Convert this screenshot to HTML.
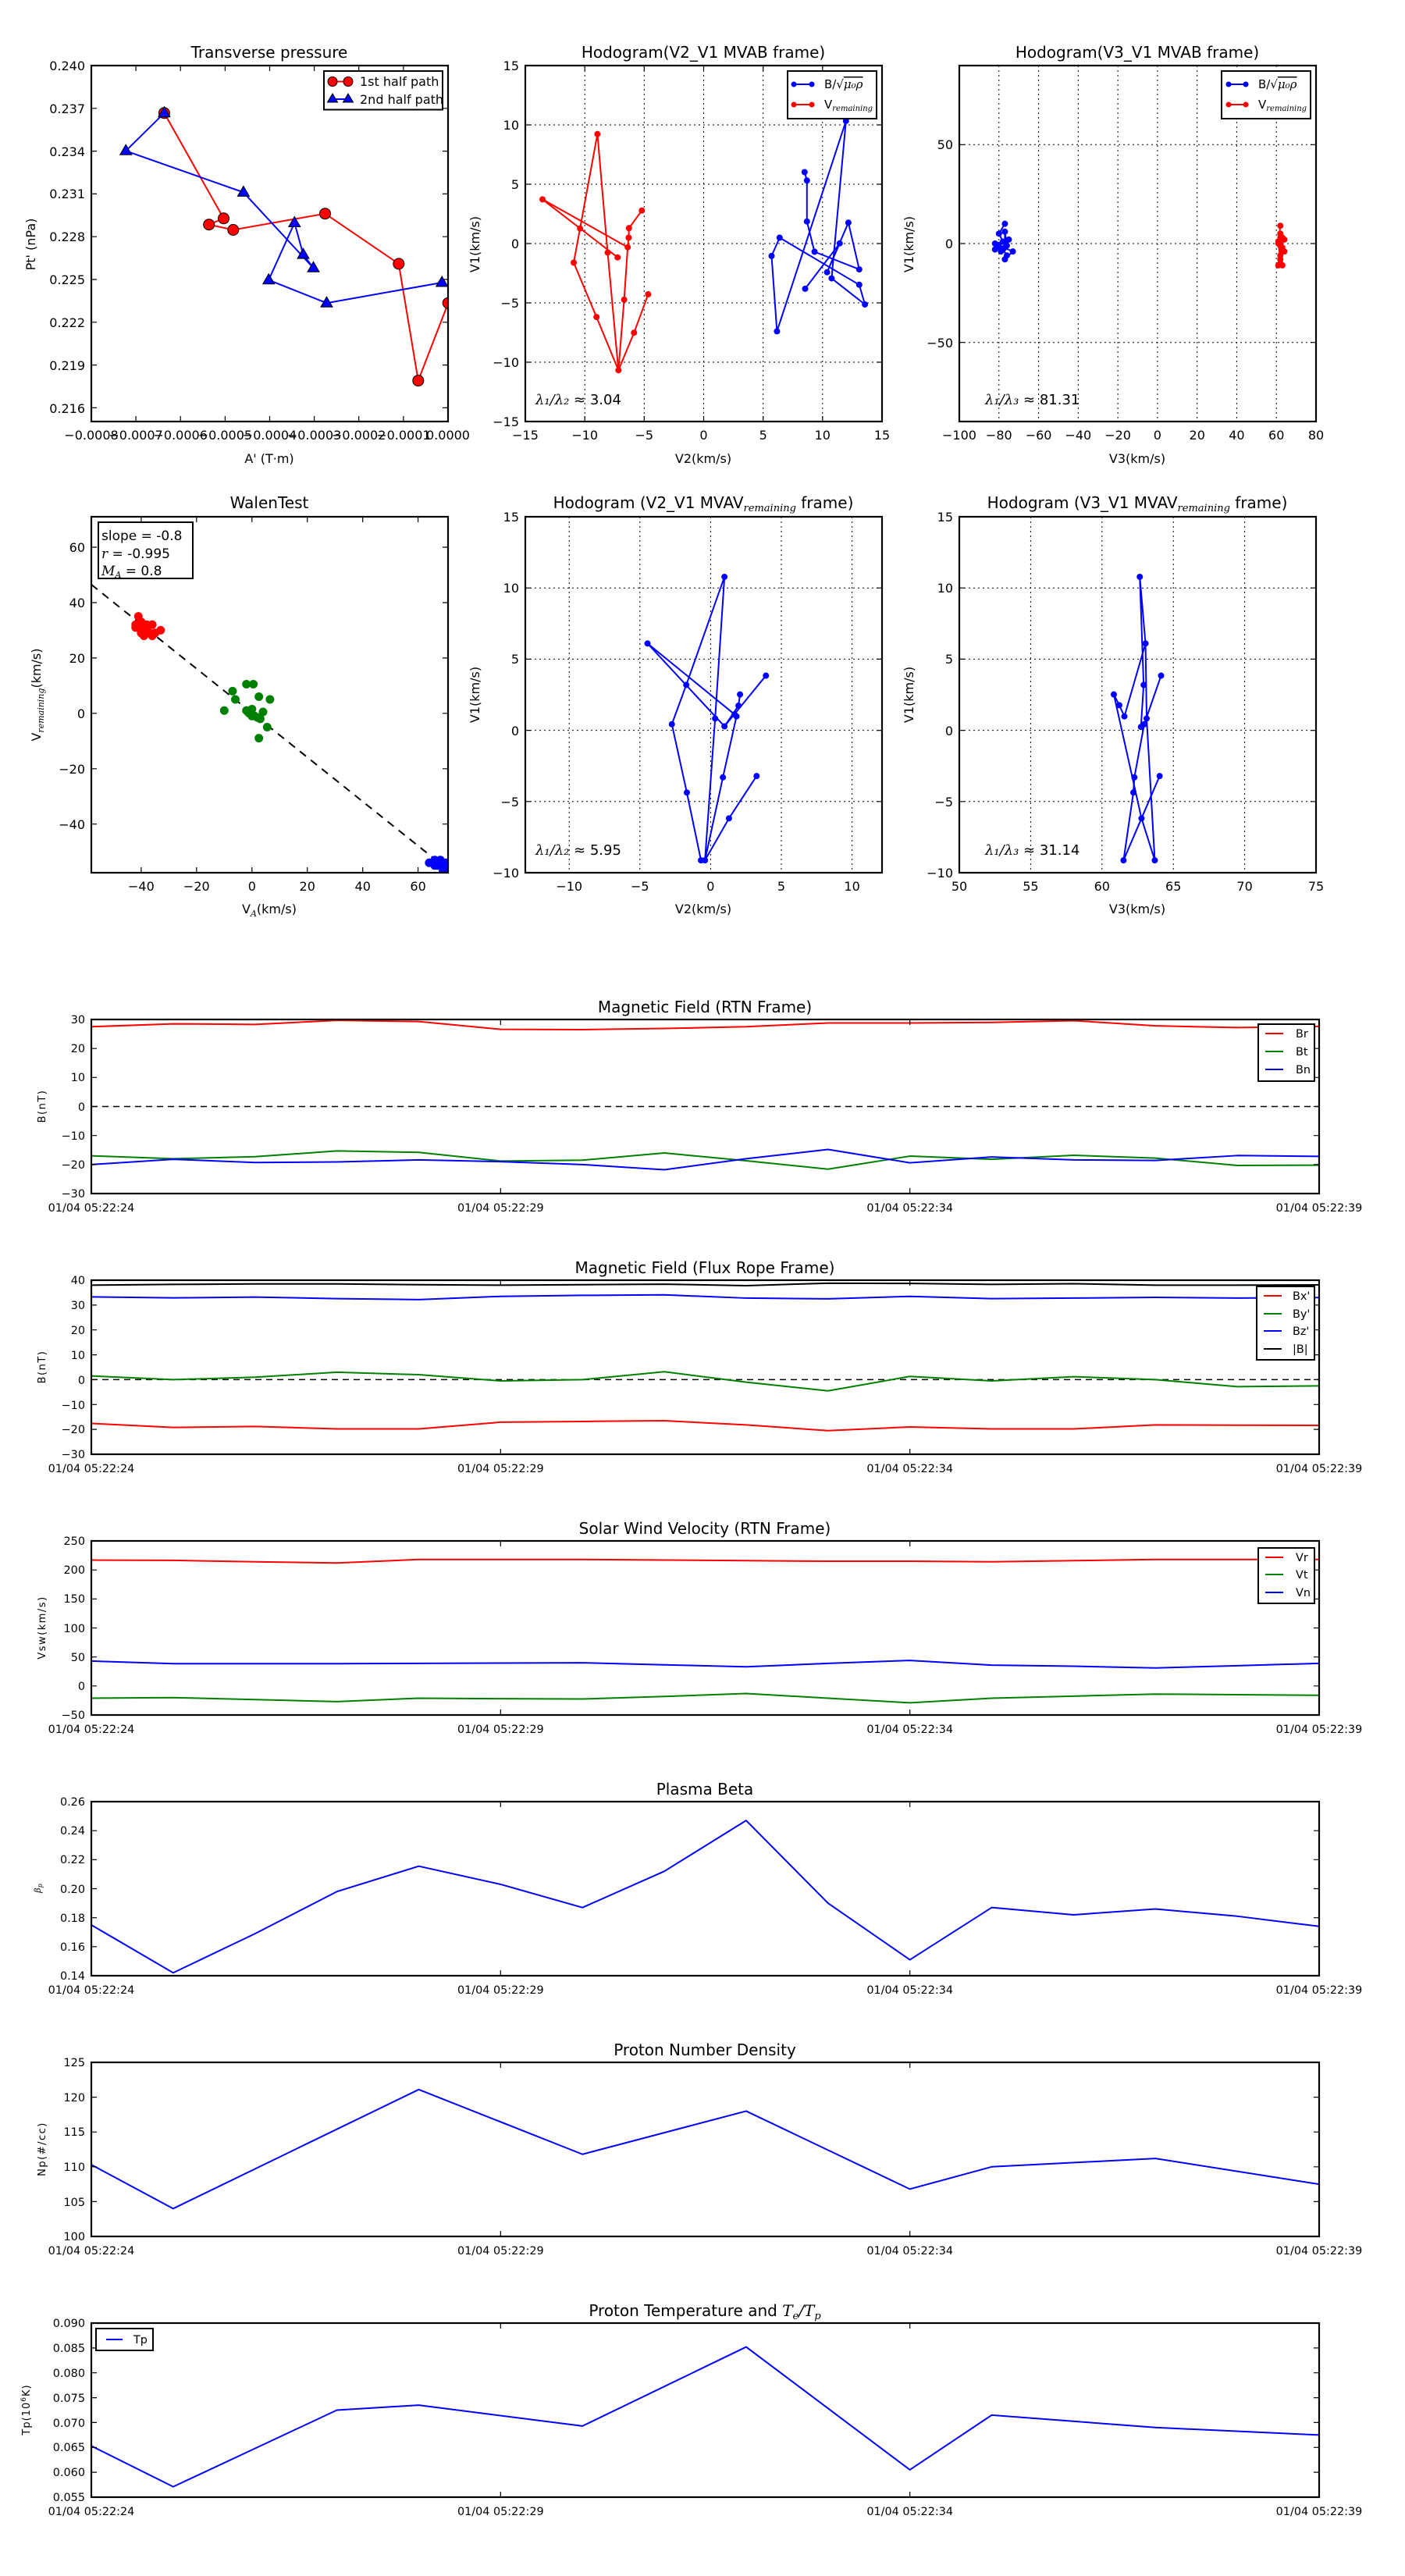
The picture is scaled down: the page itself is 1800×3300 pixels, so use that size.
<!DOCTYPE html>
<html><head><meta charset="utf-8"><style>
html,body{margin:0;padding:0;background:#fff;}
svg{display:block;font-family:"DejaVu Sans","Liberation Sans",sans-serif;}
.t{font-size:16px;fill:#000;}
.ts{font-size:14.4px;fill:#000;}
.ti{font-size:20px;fill:#000;text-anchor:middle;}
.ax{fill:none;stroke:#000;stroke-width:2.2;}
.tk{stroke:#000;stroke-width:1.2;}
.gr{stroke:#000;stroke-width:1;stroke-dasharray:2,4;}
.ln{fill:none;stroke-width:2;vector-effect:non-scaling-stroke;stroke-linejoin:round;}
.dt{fill:none;stroke-linecap:round;vector-effect:non-scaling-stroke;}
.m{font-family:"DejaVu Serif","Liberation Serif",serif;font-style:italic;}
</style></head><body>
<svg width="1800" height="3300" viewBox="0 0 1800 3300" xmlns="http://www.w3.org/2000/svg">
<defs>
<clipPath id="c1"><rect x="117" y="84" width="457" height="456"/></clipPath>
<clipPath id="c2"><rect x="673" y="84" width="457" height="456"/></clipPath>
</defs>

<!-- ============ Panel 1: Transverse pressure ============ -->
<text class="ti" x="345" y="74">Transverse pressure</text>
<g class="tk">
<path d="M174.1,84v7M231.2,84v7M288.4,84v7M345.5,84v7M402.6,84v7M459.7,84v7M516.9,84v7M174.1,540v-7M231.2,540v-7M288.4,540v-7M345.5,540v-7M402.6,540v-7M459.7,540v-7M516.9,540v-7"/>
<path d="M117,138.8h7M117,193.6h7M117,248.4h7M117,303.2h7M117,358h7M117,412.8h7M117,467.6h7M117,522.4h7M574,138.8h-7M574,193.6h-7M574,248.4h-7M574,303.2h-7M574,358h-7M574,412.8h-7M574,467.6h-7M574,522.4h-7"/>
</g>
<g class="t" text-anchor="end">
<text x="109" y="90">0.240</text><text x="109" y="145">0.237</text><text x="109" y="200">0.234</text><text x="109" y="254">0.231</text><text x="109" y="309">0.228</text><text x="109" y="364">0.225</text><text x="109" y="419">0.222</text><text x="109" y="474">0.219</text><text x="109" y="529">0.216</text>
</g>
<g class="t" text-anchor="middle">
<text x="117" y="563">−0.0008</text><text x="174.1" y="563">−0.0007</text><text x="231.2" y="563">−0.0006</text><text x="288.4" y="563">−0.0005</text><text x="345.5" y="563">−0.0004</text><text x="402.6" y="563">−0.0003</text><text x="459.7" y="563">−0.0002</text><text x="516.9" y="563">−0.0001</text><text x="574" y="563">0.0000</text>
</g>
<text class="t" x="345" y="593" text-anchor="middle">A' (T·m)</text>
<text class="t" transform="translate(45,313) rotate(-90)" text-anchor="middle">Pt' (nPa)</text>
<g clip-path="url(#c1)">
<polyline fill="none" stroke="#f00" stroke-width="2" points="210.4,144.8 286.5,279.8 267.7,287.7 298.8,294.5 416.5,273.7 510.8,337.9 535.8,487.6 574.2,388.2"/>
<g fill="#f00" stroke="#000" stroke-width="1">
<circle cx="210.4" cy="144.8" r="7"/><circle cx="286.5" cy="279.8" r="7"/><circle cx="267.7" cy="287.7" r="7"/><circle cx="298.8" cy="294.5" r="7"/><circle cx="416.5" cy="273.7" r="7"/><circle cx="510.8" cy="337.9" r="7"/><circle cx="535.8" cy="487.6" r="7"/><circle cx="574.2" cy="388.2" r="7"/>
</g>
<polyline fill="none" stroke="#00f" stroke-width="2" points="210.4,144.8 161.2,193.3 311.9,246.4 401.5,343.3 388.5,326.1 377.3,285.5 344.2,358.7 418.5,388.2 566.2,362"/>
<g fill="#00f" stroke="#000" stroke-width="1">
<polygon points="210.4,136.8 202.9,149.8 217.9,149.8"/><polygon points="161.2,185.3 153.7,198.3 168.7,198.3"/><polygon points="311.9,238.4 304.4,251.4 319.4,251.4"/><polygon points="401.5,335.3 394,348.3 409,348.3"/><polygon points="388.5,318.1 381,331.1 396,331.1"/><polygon points="377.3,277.5 369.8,290.5 384.8,290.5"/><polygon points="344.2,350.7 336.7,363.7 351.7,363.7"/><polygon points="418.5,380.2 411,393.2 426,393.2"/><polygon points="566.2,354 558.7,367 573.7,367"/>
</g>
</g>
<rect class="ax" x="117" y="84" width="457" height="456"/>
<rect x="415" y="91" width="152" height="49.5" fill="#fff" stroke="#000" stroke-width="2"/>
<line x1="426" y1="104.5" x2="446" y2="104.5" stroke="#f00" stroke-width="2"/>
<circle cx="426" cy="104.5" r="6" fill="#f00" stroke="#000"/><circle cx="446" cy="104.5" r="6" fill="#f00" stroke="#000"/>
<line x1="426" y1="127" x2="446" y2="127" stroke="#00f" stroke-width="2"/>
<polygon points="426,120 419.5,131 432.5,131" fill="#00f" stroke="#000"/><polygon points="446,120 439.5,131 452.5,131" fill="#00f" stroke="#000"/>
<text class="t" x="461" y="110">1st half path</text>
<text class="t" x="461" y="133">2nd half path</text>

<!-- ============ Panel 2: Hodogram V2_V1 MVAB ============ -->
<text class="ti" x="901" y="74">Hodogram(V2_V1 MVAB frame)</text>
<g class="gr">
<path d="M749.2,84V540M825.3,84V540M901.5,84V540M977.7,84V540M1053.8,84V540M673,160H1130M673,236H1130M673,312H1130M673,388H1130M673,464H1130"/>
</g>
<g class="tk"><path d="M749.2,84v7M825.3,84v7M901.5,84v7M977.7,84v7M1053.8,84v7M749.2,540v-7M825.3,540v-7M901.5,540v-7M977.7,540v-7M1053.8,540v-7M673,160h7M673,236h7M673,312h7M673,388h7M673,464h7M1130,160h-7M1130,236h-7M1130,312h-7M1130,388h-7M1130,464h-7"/></g>
<g class="t" text-anchor="end">
<text x="665" y="90">15</text><text x="665" y="166">10</text><text x="665" y="242">5</text><text x="665" y="318">0</text><text x="665" y="394">−5</text><text x="665" y="470">−10</text><text x="665" y="546">−15</text>
</g>
<g class="t" text-anchor="middle">
<text x="673" y="563">−15</text><text x="749.2" y="563">−10</text><text x="825.3" y="563">−5</text><text x="901.5" y="563">0</text><text x="977.7" y="563">5</text><text x="1053.8" y="563">10</text><text x="1130" y="563">15</text>
</g>
<text class="t" x="901" y="593" text-anchor="middle">V2(km/s)</text>
<text class="t" transform="translate(614,313) rotate(-90)" text-anchor="middle">V1(km/s)</text>
<g clip-path="url(#c2)" fill="none" stroke-width="2" stroke-linejoin="round">
<g stroke="#f00">
<polyline points="830.4,377 812.3,426.2 792.3,474.3 764.2,406.1 735,336.5"/>
<polyline points="735,336.5 743.1,292.7 765.4,171.7 778.5,323.6 792.3,474.3"/>
<polyline points="792.3,474.3 799.6,383.9 804.2,316.7 805.4,304.5 805.8,292.3 822.3,269.7"/>
<polyline points="791.2,329.7 695,255.4 804.2,316.7"/>
</g>
<g fill="#f00" stroke="none">
<circle cx="695" cy="255.4" r="4"/><circle cx="743.1" cy="292.7" r="4"/><circle cx="735" cy="336.5" r="4"/><circle cx="764.2" cy="406.1" r="4"/><circle cx="792.3" cy="474.3" r="4"/><circle cx="799.6" cy="383.9" r="4"/><circle cx="804.2" cy="316.7" r="4"/><circle cx="805.4" cy="304.5" r="4"/><circle cx="805.8" cy="292.3" r="4"/><circle cx="822.3" cy="269.7" r="4"/><circle cx="765.4" cy="171.7" r="4"/><circle cx="778.5" cy="323.6" r="4"/><circle cx="791.2" cy="329.7" r="4"/><circle cx="812.3" cy="426.2" r="4"/><circle cx="830.4" cy="377" r="4"/>
</g>
<g stroke="#00f">
<polyline points="1030.8,220.5 1033.8,231.3 1033.8,283.7 1043.5,322.5 1100.8,345.1 1086.9,285.2 1059.6,348.7 1075.8,311.7 1031.5,369.9"/>
<polyline points="998.8,304.5 988.5,327.9 995.4,424.4 1083.8,154.9 1065.4,356.6 1108.1,390 1100.8,364.8 998.8,304.5"/>
</g>
<g fill="#00f" stroke="none">
<circle cx="1083.8" cy="154.9" r="4"/><circle cx="1030.8" cy="220.5" r="4"/><circle cx="1033.8" cy="231.3" r="4"/><circle cx="1033.8" cy="283.7" r="4"/><circle cx="1043.5" cy="322.5" r="4"/><circle cx="1100.8" cy="345.1" r="4"/><circle cx="998.8" cy="304.5" r="4"/><circle cx="988.5" cy="327.9" r="4"/><circle cx="995.4" cy="424.4" r="4"/><circle cx="1086.9" cy="285.2" r="4"/><circle cx="1075.8" cy="311.7" r="4"/><circle cx="1059.6" cy="348.7" r="4"/><circle cx="1065.4" cy="356.6" r="4"/><circle cx="1100.8" cy="364.8" r="4"/><circle cx="1108.1" cy="390" r="4"/><circle cx="1031.5" cy="369.9" r="4"/>
</g>
</g>
<rect class="ax" x="673" y="84" width="457" height="456"/>
<rect x="1009" y="91" width="114" height="61" fill="#fff" stroke="#000" stroke-width="2"/>
<line x1="1017" y1="108" x2="1040" y2="108" stroke="#00f" stroke-width="2"/><circle cx="1017" cy="108" r="3.5" fill="#00f"/><circle cx="1040" cy="108" r="3.5" fill="#00f"/>
<line x1="1017" y1="134" x2="1040" y2="134" stroke="#f00" stroke-width="2"/><circle cx="1017" cy="134" r="3.5" fill="#f00"/><circle cx="1040" cy="134" r="3.5" fill="#f00"/>
<text x="1056" y="113" style="font-size:15px">B/√<tspan class="m" style="text-decoration:overline">μ₀ρ</tspan></text>
<text x="1056" y="139" style="font-size:15px">V<tspan class="m" style="font-size:10px" dy="3">remaining</tspan></text>
<text x="686" y="518" style="font-size:18px"><tspan class="m">λ₁/λ₂</tspan> ≈ 3.04</text>

<!-- ============ Panel 3: Hodogram V3_V1 MVAB ============ -->
<text class="ti" x="1457" y="74">Hodogram(V3_V1 MVAB frame)</text>
<g class="gr"><path d="M1279.8,84V540M1330.6,84V540M1381.3,84V540M1432.1,84V540M1482.9,84V540M1533.7,84V540M1584.4,84V540M1635.2,84V540M1229,185.3H1686M1229,312H1686M1229,438.7H1686"/></g>
<g class="tk"><path d="M1229,185.3h7M1229,312h7M1229,438.7h7M1686,185.3h-7M1686,312h-7M1686,438.7h-7"/></g>
<g class="t" text-anchor="end"><text x="1221" y="191">50</text><text x="1221" y="318">0</text><text x="1221" y="445">−50</text></g>
<g class="t" text-anchor="middle">
<text x="1229" y="563">−100</text><text x="1279.8" y="563">−80</text><text x="1330.6" y="563">−60</text><text x="1381.3" y="563">−40</text><text x="1432.1" y="563">−20</text><text x="1482.9" y="563">0</text><text x="1533.7" y="563">20</text><text x="1584.4" y="563">40</text><text x="1635.2" y="563">60</text><text x="1686" y="563">80</text>
</g>
<text class="t" x="1457" y="593" text-anchor="middle">V3(km/s)</text>
<text class="t" transform="translate(1170,313) rotate(-90)" text-anchor="middle">V1(km/s)</text>
<svg x="1229" y="84" width="457" height="456" viewBox="-100 -90 180 180" preserveAspectRatio="none">
<polyline class="ln" stroke="#00f" points="-77,-10 -80,-5 -78,-1 -82,0 -82,3 -77,2 -75,-2 -78,3 -76,6 -77,8 -73,4 -80,1 -79,4 -76,1 -77,-6 -77,2"/>
<path class="dt" stroke="#00f" stroke-width="8" d="M-77,-10h0M-80,-5h0M-78,-1h0M-82,0h0M-82,3h0M-77,2h0M-75,-2h0M-78,3h0M-76,6h0M-77,8h0M-73,4h0M-80,1h0M-79,4h0M-76,1h0M-77,-6h0"/>
<polyline class="ln" stroke="#f00" points="62,-9 61,-1 63,-3 64,-2 62,1 63,2 64,4 62,6 61,11 63,11 62,8 61,0 62,-3 63,3 62,10 62,-5"/>
<path class="dt" stroke="#f00" stroke-width="8" d="M62,-9h0M61,-1h0M63,-3h0M64,-2h0M62,1h0M63,2h0M64,4h0M62,6h0M61,11h0M63,11h0M62,8h0M61,0h0M62,-3h0M63,3h0M62,10h0M62,-5h0"/>
</svg>
<rect class="ax" x="1229" y="84" width="457" height="456"/>
<rect x="1565" y="91" width="114" height="61" fill="#fff" stroke="#000" stroke-width="2"/>
<line x1="1574" y1="108" x2="1596" y2="108" stroke="#00f" stroke-width="2"/><circle cx="1574" cy="108" r="3.5" fill="#00f"/><circle cx="1596" cy="108" r="3.5" fill="#00f"/>
<line x1="1574" y1="134" x2="1596" y2="134" stroke="#f00" stroke-width="2"/><circle cx="1574" cy="134" r="3.5" fill="#f00"/><circle cx="1596" cy="134" r="3.5" fill="#f00"/>
<text x="1612" y="113" style="font-size:15px">B/√<tspan class="m" style="text-decoration:overline">μ₀ρ</tspan></text>
<text x="1612" y="139" style="font-size:15px">V<tspan class="m" style="font-size:10px" dy="3">remaining</tspan></text>
<text x="1262" y="518" style="font-size:18px"><tspan class="m">λ₁/λ₃</tspan> ≈ 81.31</text>

<!-- ============ Panel 4: WalenTest ============ -->
<text class="ti" x="345" y="651">WalenTest</text>
<g class="tk"><path d="M180.9,662v7M251.8,662v7M322.8,662v7M393.7,662v7M464.7,662v7M535.6,662v7M180.9,1118v-7M251.8,1118v-7M322.8,1118v-7M393.7,1118v-7M464.7,1118v-7M535.6,1118v-7M117,701h7M117,772h7M117,842.9h7M117,913.8h7M117,984.8h7M117,1055.7h7M574,701h-7M574,772h-7M574,842.9h-7M574,913.8h-7M574,984.8h-7M574,1055.7h-7"/></g>
<g class="t" text-anchor="end"><text x="109" y="707">60</text><text x="109" y="778">40</text><text x="109" y="849">20</text><text x="109" y="920">0</text><text x="109" y="991">−20</text><text x="109" y="1062">−40</text></g>
<g class="t" text-anchor="middle"><text x="180.9" y="1141">−40</text><text x="251.8" y="1141">−20</text><text x="322.8" y="1141">0</text><text x="393.7" y="1141">20</text><text x="464.7" y="1141">40</text><text x="535.6" y="1141">60</text></g>
<text class="t" x="345" y="1170" text-anchor="middle">V<tspan class="m" style="font-size:11px" dy="4">A</tspan><tspan dy="-4">(km/s)</tspan></text>
<text class="t" transform="translate(52,890) rotate(-90)" text-anchor="middle">V<tspan class="m" style="font-size:11px" dy="4">remaining</tspan><tspan dy="-4">(km/s)</tspan></text>
<svg x="117" y="662" width="457" height="456" viewBox="-58 -71 128.8 128.6" preserveAspectRatio="none">
<line x1="-58" y1="-46.5" x2="71" y2="56.7" stroke="#000" stroke-width="2" stroke-dasharray="10,8" vector-effect="non-scaling-stroke"/>
<path class="dt" stroke="#f00" stroke-width="11" d="M-41,-35h0M-42,-31h0M-40,-33h0M-39,-30h0M-38,-32h0M-37,-29h0M-36,-32h0M-35,-29h0M-33,-30h0M-40,-29h0M-41,-32h0M-38,-31h0M-39,-28h0M-36,-28h0M-42,-32h0"/>
<path class="dt" stroke="#008000" stroke-width="11" d="M-10,-1h0M-7,-8h0M-6,-5h0M-2,-10.5h0M0.5,-10.5h0M2.5,-6h0M6.5,-5h0M-2,-1h0M0,-1.5h0M-1,0h0M0,1h0M2,1.5h0M4,-0.5h0M3,2h0M5.5,5h0M2.5,9h0M-1.5,-0.5h0M1,1h0"/>
<path class="dt" stroke="#00f" stroke-width="11" d="M64,54h0M66,53h0M67,55h0M68,53h0M69,55h0M70,56h0M66,55h0M69,57h0M70,54h0"/>
</svg>
<rect class="ax" x="117" y="662" width="457" height="456"/>
<rect x="126" y="669" width="121" height="72" fill="#fff" stroke="#000" stroke-width="2"/>
<text class="t" x="130" y="692" style="font-size:17px">slope = -0.8</text>
<text class="t" x="130" y="715" style="font-size:17px"><tspan class="m">r</tspan> = -0.995</text>
<text class="t" x="130" y="737" style="font-size:17px"><tspan class="m">M<tspan style="font-size:11px" dy="3">A</tspan></tspan><tspan dy="-3"> = 0.8</tspan></text>

<!-- ============ Panel 5: V2_V1 MVAV ============ -->
<text class="ti" x="901" y="651">Hodogram (V2_V1 MVAV<tspan class="m" style="font-size:13px" dy="4">remaining</tspan><tspan dy="-4"> frame)</tspan></text>
<g class="gr"><path d="M729.2,662V1118M819.8,662V1118M910.4,662V1118M1001,662V1118M1091.6,662V1118M673,753.2H1130M673,844.4H1130M673,935.6H1130M673,1026.8H1130"/></g>
<g class="tk"><path d="M673,753.2h7M673,844.4h7M673,935.6h7M673,1026.8h7M1130,753.2h-7M1130,844.4h-7M1130,935.6h-7M1130,1026.8h-7"/></g>
<g class="t" text-anchor="end"><text x="665" y="668">15</text><text x="665" y="759">10</text><text x="665" y="850">5</text><text x="665" y="942">0</text><text x="665" y="1033">−5</text><text x="665" y="1124">−10</text></g>
<g class="t" text-anchor="middle"><text x="729.2" y="1141">−10</text><text x="819.8" y="1141">−5</text><text x="910.4" y="1141">0</text><text x="1001" y="1141">5</text><text x="1091.6" y="1141">10</text></g>
<text class="t" x="901" y="1170" text-anchor="middle">V2(km/s)</text>
<text class="t" transform="translate(614,890) rotate(-90)" text-anchor="middle">V1(km/s)</text>
<svg x="673" y="662" width="457" height="456" viewBox="-13.1 -15 25.22 25" preserveAspectRatio="none">
<g stroke="#00f">
<polyline class="ln" points="3.25,3.21 1.30,6.18 -0.40,9.13 -0.68,9.13 -1.68,4.37 -2.74,-0.43 -1.72,-3.19 0.98,-10.78 0.32,-0.83 -0.40,9.13 0.87,3.30 1.83,-0.98 1.70,-1.12 -4.46,-6.10 0.98,-0.28 1.97,-1.73 2.08,-2.52"/>
<polyline class="ln" points="0.98,-0.28 3.91,-3.84"/>
<path class="dt" stroke-width="8" d="M3.25,3.21h0M1.30,6.18h0M-0.40,9.13h0M-0.68,9.13h0M-1.68,4.37h0M-2.74,-0.43h0M-1.72,-3.19h0M0.98,-10.78h0M0.32,-0.83h0M0.87,3.30h0M1.83,-0.98h0M1.70,-1.12h0M-4.46,-6.10h0M0.98,-0.28h0M1.97,-1.73h0M2.08,-2.52h0M3.91,-3.84h0"/>
</g>
</svg>
<rect class="ax" x="673" y="662" width="457" height="456"/>
<text x="686" y="1095" style="font-size:18px"><tspan class="m">λ₁/λ₂</tspan> ≈ 5.95</text>

<!-- ============ Panel 6: V3_V1 MVAV ============ -->
<text class="ti" x="1457" y="651">Hodogram (V3_V1 MVAV<tspan class="m" style="font-size:13px" dy="4">remaining</tspan><tspan dy="-4"> frame)</tspan></text>
<g class="gr"><path d="M1320.4,662V1118M1411.8,662V1118M1503.2,662V1118M1594.6,662V1118M1229,753.2H1686M1229,844.4H1686M1229,935.6H1686M1229,1026.8H1686"/></g>
<g class="tk"><path d="M1229,753.2h7M1229,844.4h7M1229,935.6h7M1229,1026.8h7M1686,753.2h-7M1686,844.4h-7M1686,935.6h-7M1686,1026.8h-7"/></g>
<g class="t" text-anchor="end"><text x="1221" y="668">15</text><text x="1221" y="759">10</text><text x="1221" y="850">5</text><text x="1221" y="942">0</text><text x="1221" y="1033">−5</text><text x="1221" y="1124">−10</text></g>
<g class="t" text-anchor="middle"><text x="1229" y="1141">50</text><text x="1320.4" y="1141">55</text><text x="1411.8" y="1141">60</text><text x="1503.2" y="1141">65</text><text x="1594.6" y="1141">70</text><text x="1686" y="1141">75</text></g>
<text class="t" x="1457" y="1170" text-anchor="middle">V3(km/s)</text>
<text class="t" transform="translate(1170,890) rotate(-90)" text-anchor="middle">V1(km/s)</text>
<svg x="1229" y="662" width="457" height="456" viewBox="50 -15 25 25" preserveAspectRatio="none">
<g stroke="#00f">
<polyline class="ln" points="63.05,-6.1 61.57,-0.98 61.21,-1.77 60.83,-2.52 62.77,6.18 63.7,9.13 63.13,-0.83 63.05,-6.1 62.65,-10.78 62.92,-3.19 62.73,-0.24"/>
<polyline class="ln" points="64.04,3.21 62.77,6.18 61.51,9.13 62.2,4.37 62.27,3.3 62.96,-0.43 64.14,-3.84"/>
<path class="dt" stroke-width="8" d="M62.65,-10.78h0M63.05,-6.1h0M62.92,-3.19h0M60.83,-2.52h0M61.21,-1.77h0M61.57,-0.98h0M62.73,-0.24h0M62.96,-0.43h0M63.13,-0.83h0M64.14,-3.84h0M62.27,3.3h0M62.2,4.37h0M62.77,6.18h0M61.51,9.13h0M63.7,9.13h0M64.04,3.21h0"/>
</g>
</svg>
<rect class="ax" x="1229" y="662" width="457" height="456"/>
<text x="1262" y="1095" style="font-size:18px"><tspan class="m">λ₁/λ₃</tspan> ≈ 31.14</text>

<!-- ============ Time series ============ -->
<!-- Plot 1 -->
<text class="ti" x="903" y="1297">Magnetic Field (RTN Frame)</text>
<svg x="117" y="1306" width="1573" height="223" viewBox="0 -30 15 60" preserveAspectRatio="none">
<line x1="0" y1="0" x2="15" y2="0" stroke="#000" stroke-width="1.5" stroke-dasharray="8,6" vector-effect="non-scaling-stroke"/>
<polyline class="ln" stroke="#f00" points="0,-27.5 1,-28.5 2,-28.3 3,-29.7 4,-29.3 5,-26.6 6,-26.5 7,-26.9 8,-27.5 9,-28.8 10,-28.8 11,-29 12,-29.6 13,-27.8 14,-27.2 15,-27.6"/>
<polyline class="ln" stroke="#008000" points="0,17 1,18 2,17.3 3,15.3 4,15.8 5,18.8 6,18.5 7,16 8,18.7 9,21.6 10,17.1 11,18.2 12,16.8 13,17.8 14,20.3 15,20.2"/>
<polyline class="ln" stroke="#00f" points="0,20 1,18.2 2,19.3 3,19.1 4,18.4 5,19 6,20 7,21.8 8,18 9,14.8 10,19.4 11,17.4 12,18.4 13,18.6 14,16.9 15,17.2"/>
</svg>
<rect class="ax" x="117" y="1306" width="1573" height="223"/>
<g class="tk"><path d="M641.3,1306v7M1165.7,1306v7M641.3,1529v-7M1165.7,1529v-7M117,1343.2h7M117,1380.3h7M117,1417.5h7M117,1454.7h7M117,1491.8h7M1690,1343.2h-7M1690,1380.3h-7M1690,1417.5h-7M1690,1454.7h-7M1690,1491.8h-7"/></g>
<g class="ts" text-anchor="end"><text x="109" y="1311">30</text><text x="109" y="1348">20</text><text x="109" y="1385">10</text><text x="109" y="1423">0</text><text x="109" y="1460">−10</text><text x="109" y="1497">−20</text><text x="109" y="1534">−30</text></g>
<g class="ts" text-anchor="middle"><text x="117" y="1552">01/04 05:22:24</text><text x="641.3" y="1552">01/04 05:22:29</text><text x="1165.7" y="1552">01/04 05:22:34</text><text x="1690" y="1552">01/04 05:22:39</text></g>
<text class="ts" transform="translate(58,1417) rotate(-90)" text-anchor="middle" style="font-size:13px;letter-spacing:1.5px">B(nT)</text>
<rect x="1612" y="1312" width="72" height="73" fill="#fff" stroke="#000" stroke-width="2"/>
<line x1="1621" y1="1324" x2="1644" y2="1324" stroke="#f00" stroke-width="2"/><line x1="1621" y1="1347" x2="1644" y2="1347" stroke="#008000" stroke-width="2"/><line x1="1621" y1="1370" x2="1644" y2="1370" stroke="#00f" stroke-width="2"/>
<g class="ts"><text x="1660" y="1329">Br</text><text x="1660" y="1352">Bt</text><text x="1660" y="1375">Bn</text></g>

<!-- Plot 2 -->
<text class="ti" x="903" y="1631">Magnetic Field (Flux Rope Frame)</text>
<svg x="117" y="1640" width="1573" height="223" viewBox="0 -40 15 70" preserveAspectRatio="none">
<line x1="0" y1="0" x2="15" y2="0" stroke="#000" stroke-width="1.5" stroke-dasharray="8,6" vector-effect="non-scaling-stroke"/>
<polyline class="ln" stroke="#000" points="0,-38 1,-38.3 2,-38.5 3,-38.5 4,-38.2 5,-38 6,-38.2 7,-38.4 8,-37.8 9,-38.8 10,-38.7 11,-38.3 12,-38.6 13,-38 14,-38 15,-38.1"/>
<polyline class="ln" stroke="#00f" points="0,-33.3 1,-32.9 2,-33.2 3,-32.6 4,-32.2 5,-33.5 6,-33.9 7,-34.1 8,-32.8 9,-32.5 10,-33.5 11,-32.6 12,-32.8 13,-33.1 14,-32.8 15,-33"/>
<polyline class="ln" stroke="#008000" points="0,-1.5 1,0 2,-1 3,-3 4,-2 5,0.5 6,0 7,-3.2 8,1 9,4.5 10,-1.3 11,0.5 12,-1.2 13,0 14,2.8 15,2.5"/>
<polyline class="ln" stroke="#f00" points="0,17.6 1,19.2 2,18.8 3,19.8 4,19.8 5,17.1 6,16.8 7,16.5 8,18.2 9,20.5 10,19 11,19.8 12,19.8 13,18.2 14,18.3 15,18.4"/>
</svg>
<rect class="ax" x="117" y="1640" width="1573" height="223"/>
<g class="tk"><path d="M641.3,1640v7M1165.7,1640v7M641.3,1863v-7M1165.7,1863v-7M117,1671.9h7M117,1703.7h7M117,1735.6h7M117,1767.4h7M117,1799.3h7M117,1831.1h7M1690,1671.9h-7M1690,1703.7h-7M1690,1735.6h-7M1690,1767.4h-7M1690,1799.3h-7M1690,1831.1h-7"/></g>
<g class="ts" text-anchor="end"><text x="109" y="1645">40</text><text x="109" y="1677">30</text><text x="109" y="1709">20</text><text x="109" y="1741">10</text><text x="109" y="1773">0</text><text x="109" y="1805">−10</text><text x="109" y="1836">−20</text><text x="109" y="1868">−30</text></g>
<g class="ts" text-anchor="middle"><text x="117" y="1886">01/04 05:22:24</text><text x="641.3" y="1886">01/04 05:22:29</text><text x="1165.7" y="1886">01/04 05:22:34</text><text x="1690" y="1886">01/04 05:22:39</text></g>
<text class="ts" transform="translate(58,1751) rotate(-90)" text-anchor="middle" style="font-size:13px;letter-spacing:1.5px">B(nT)</text>
<rect x="1610" y="1648" width="74" height="94" fill="#fff" stroke="#000" stroke-width="2"/>
<line x1="1619" y1="1660" x2="1642" y2="1660" stroke="#f00" stroke-width="2"/><line x1="1619" y1="1683" x2="1642" y2="1683" stroke="#008000" stroke-width="2"/><line x1="1619" y1="1705" x2="1642" y2="1705" stroke="#00f" stroke-width="2"/><line x1="1619" y1="1728" x2="1642" y2="1728" stroke="#000" stroke-width="2"/>
<g class="ts"><text x="1656" y="1665">Bx'</text><text x="1656" y="1688">By'</text><text x="1656" y="1710">Bz'</text><text x="1656" y="1733">|B|</text></g>

<!-- Plot 3 -->
<text class="ti" x="903" y="1965">Solar Wind Velocity (RTN Frame)</text>
<svg x="117" y="1974" width="1573" height="223" viewBox="0 -250 15 300" preserveAspectRatio="none">
<polyline class="ln" stroke="#f00" points="0,-217 1,-216.5 2,-214 3,-212 4,-218 5,-218 6,-218 7,-217 8,-216 9,-215 10,-215 11,-214 12,-216 13,-218 14,-218 15,-218"/>
<polyline class="ln" stroke="#00f" points="0,-43 1,-38.5 2,-38.5 3,-38.5 4,-39 5,-39.5 6,-40 7,-36.5 8,-33 9,-39 10,-44 11,-36 12,-34 13,-31 14,-35 15,-39"/>
<polyline class="ln" stroke="#008000" points="0,21 1,20 2,23.5 3,27 4,21 5,22 6,22.5 7,18 8,13 9,21 10,29 11,21 12,17.5 13,14 14,15 15,16"/>
</svg>
<rect class="ax" x="117" y="1974" width="1573" height="223"/>
<g class="tk"><path d="M641.3,1974v7M1165.7,1974v7M641.3,2197v-7M1165.7,2197v-7M117,2011.2h7M117,2048.3h7M117,2085.5h7M117,2122.7h7M117,2159.8h7M1690,2011.2h-7M1690,2048.3h-7M1690,2085.5h-7M1690,2122.7h-7M1690,2159.8h-7"/></g>
<g class="ts" text-anchor="end"><text x="109" y="1979">250</text><text x="109" y="2016">200</text><text x="109" y="2053">150</text><text x="109" y="2091">100</text><text x="109" y="2128">50</text><text x="109" y="2165">0</text><text x="109" y="2202">−50</text></g>
<g class="ts" text-anchor="middle"><text x="117" y="2220">01/04 05:22:24</text><text x="641.3" y="2220">01/04 05:22:29</text><text x="1165.7" y="2220">01/04 05:22:34</text><text x="1690" y="2220">01/04 05:22:39</text></g>
<text class="ts" transform="translate(58,2085) rotate(-90)" text-anchor="middle" style="font-size:13px;letter-spacing:1.5px">Vsw(km/s)</text>
<rect x="1612" y="1983" width="72" height="71" fill="#fff" stroke="#000" stroke-width="2"/>
<line x1="1621" y1="1995" x2="1644" y2="1995" stroke="#f00" stroke-width="2"/><line x1="1621" y1="2017" x2="1644" y2="2017" stroke="#008000" stroke-width="2"/><line x1="1621" y1="2040" x2="1644" y2="2040" stroke="#00f" stroke-width="2"/>
<g class="ts"><text x="1660" y="2000">Vr</text><text x="1660" y="2022">Vt</text><text x="1660" y="2045">Vn</text></g>

<!-- Plot 4 -->
<text class="ti" x="903" y="2299">Plasma Beta</text>
<svg x="117" y="2308" width="1573" height="223" viewBox="0 -0.26 15 0.12" preserveAspectRatio="none">
<polyline class="ln" stroke="#00f" points="0,-0.175 1,-0.142 2,-0.169 3,-0.198 4,-0.2155 5,-0.203 6,-0.187 7,-0.212 8,-0.247 9,-0.19 10,-0.151 11,-0.187 12,-0.182 13,-0.186 14,-0.181 15,-0.174"/>
</svg>
<rect class="ax" x="117" y="2308" width="1573" height="223"/>
<g class="tk"><path d="M641.3,2308v7M1165.7,2308v7M641.3,2531v-7M1165.7,2531v-7M117,2345.2h7M117,2382.3h7M117,2419.5h7M117,2456.7h7M117,2493.8h7M1690,2345.2h-7M1690,2382.3h-7M1690,2419.5h-7M1690,2456.7h-7M1690,2493.8h-7"/></g>
<g class="ts" text-anchor="end"><text x="109" y="2313">0.26</text><text x="109" y="2350">0.24</text><text x="109" y="2387">0.22</text><text x="109" y="2425">0.20</text><text x="109" y="2462">0.18</text><text x="109" y="2499">0.16</text><text x="109" y="2536">0.14</text></g>
<g class="ts" text-anchor="middle"><text x="117" y="2554">01/04 05:22:24</text><text x="641.3" y="2554">01/04 05:22:29</text><text x="1165.7" y="2554">01/04 05:22:34</text><text x="1690" y="2554">01/04 05:22:39</text></g>
<text class="m" transform="translate(52,2419) rotate(-90)" text-anchor="middle" style="font-size:11px">β<tspan style="font-size:8px" dy="2">p</tspan></text>

<!-- Plot 5 -->
<text class="ti" x="903" y="2633">Proton Number Density</text>
<svg x="117" y="2642" width="1573" height="223" viewBox="0 -125 15 25" preserveAspectRatio="none">
<polyline class="ln" stroke="#00f" points="0,-110.3 1,-104 4,-121.1 6,-111.8 8,-118 10,-106.8 11,-110 13,-111.2 15,-107.5"/>
</svg>
<rect class="ax" x="117" y="2642" width="1573" height="223"/>
<g class="tk"><path d="M641.3,2642v7M1165.7,2642v7M641.3,2865v-7M1165.7,2865v-7M117,2686.6h7M117,2731.2h7M117,2775.8h7M117,2820.4h7M1690,2686.6h-7M1690,2731.2h-7M1690,2775.8h-7M1690,2820.4h-7"/></g>
<g class="ts" text-anchor="end"><text x="109" y="2647">125</text><text x="109" y="2692">120</text><text x="109" y="2736">115</text><text x="109" y="2781">110</text><text x="109" y="2826">105</text><text x="109" y="2870">100</text></g>
<g class="ts" text-anchor="middle"><text x="117" y="2888">01/04 05:22:24</text><text x="641.3" y="2888">01/04 05:22:29</text><text x="1165.7" y="2888">01/04 05:22:34</text><text x="1690" y="2888">01/04 05:22:39</text></g>
<text class="ts" transform="translate(58,2753) rotate(-90)" text-anchor="middle" style="font-size:13px;letter-spacing:1.5px">Np(#/cc)</text>

<!-- Plot 6 -->
<text class="ti" x="903" y="2967">Proton Temperature and <tspan class="m">T<tspan style="font-size:13px" dy="4">e</tspan><tspan dy="-4">/T</tspan><tspan style="font-size:13px" dy="4">p</tspan></tspan></text>
<svg x="117" y="2976" width="1573" height="223" viewBox="0 -0.09 15 0.035" preserveAspectRatio="none">
<polyline class="ln" stroke="#00f" points="0,-0.0653 1,-0.0571 3,-0.0725 4,-0.0735 6,-0.0693 8,-0.0852 10,-0.0605 11,-0.0715 13,-0.0690 15,-0.0675"/>
</svg>
<rect class="ax" x="117" y="2976" width="1573" height="223"/>
<g class="tk"><path d="M641.3,2976v7M1165.7,2976v7M641.3,3199v-7M1165.7,3199v-7M117,3007.9h7M117,3039.7h7M117,3071.6h7M117,3103.4h7M117,3135.3h7M117,3167.1h7M1690,3007.9h-7M1690,3039.7h-7M1690,3071.6h-7M1690,3103.4h-7M1690,3135.3h-7M1690,3167.1h-7"/></g>
<g class="ts" text-anchor="end"><text x="109" y="2981">0.090</text><text x="109" y="3013">0.085</text><text x="109" y="3045">0.080</text><text x="109" y="3077">0.075</text><text x="109" y="3109">0.070</text><text x="109" y="3140">0.065</text><text x="109" y="3172">0.060</text><text x="109" y="3204">0.055</text></g>
<g class="ts" text-anchor="middle"><text x="117" y="3222">01/04 05:22:24</text><text x="641.3" y="3222">01/04 05:22:29</text><text x="1165.7" y="3222">01/04 05:22:34</text><text x="1690" y="3222">01/04 05:22:39</text></g>
<text class="ts" transform="translate(38,3087) rotate(-90)" text-anchor="middle" style="font-size:13px;letter-spacing:1px">Tp(10<tspan style="font-size:9px" dy="-5">6</tspan><tspan dy="5">K)</tspan></text>
<rect x="123" y="2983" width="73" height="28" fill="#fff" stroke="#000" stroke-width="2"/>
<line x1="136" y1="2997" x2="157" y2="2997" stroke="#00f" stroke-width="2"/>
<text class="ts" x="171" y="3002">Tp</text>
</svg>
</body></html>
